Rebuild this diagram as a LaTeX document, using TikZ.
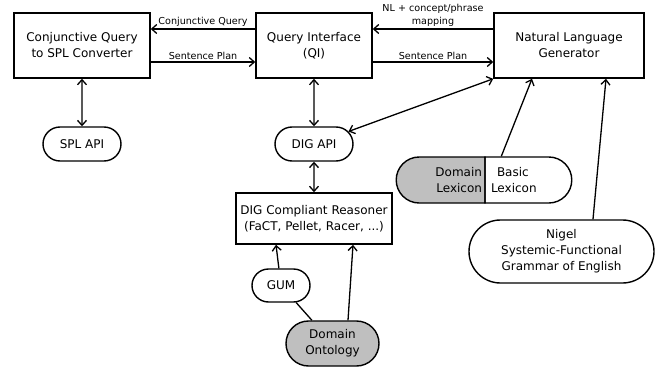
\documentclass[tikz,border=0pt]{standalone}
\usepackage{fontspec}
\setmainfont{DejaVu Sans}
\usetikzlibrary{shapes.misc,arrows.meta}

\begin{document}
\begin{tikzpicture}[>={Straight Barb[length=5pt,width=9pt]}, x=1pt, y=-1pt, line width=1.3pt,
		procbox/.style={rectangle, draw, line width=1.6pt, align=center, inner sep=2pt, font=\fontsize{12}{16}\selectfont},
		pill/.style={rounded rectangle, draw, line width=1.4pt, align=center, inner sep=2pt, font=\fontsize{12}{16}\selectfont},
		shaded/.style={fill=gray!50},
		edgelbl/.style={align=center, inner sep=2pt, font=\fontsize{9.6}{12.5}\selectfont}]
		\useasboundingbox (0,0) rectangle (657,367);
		
		% Top row
		\node[procbox, minimum width=136pt, minimum height=65pt] (cq) at (82,45.5) {Conjunctive Query\\to SPL Converter};
		\node[procbox, minimum width=116pt, minimum height=65pt] (qi) at (314,45.5) {Query Interface\\(QI)};
		\node[procbox, minimum width=150pt, minimum height=65pt] (nlg) at (569,45.5) {Natural Language\\Generator};
		
		% APIs
		\node[pill, minimum width=82pt, minimum height=34pt] (splapi) at (82,144) {SPL API};
		\node[pill, minimum width=82pt, minimum height=34pt] (digapi) at (314,144) {DIG API};
		
		% Reasoner and ontologies
		\node[procbox, minimum width=156pt, minimum height=51pt] (dcr) at (314,218.5) {DIG Compliant Reasoner\\(FaCT, Pellet, Racer, ...)};
		\node[pill, minimum width=62pt, minimum height=33pt] (gum) at (281,285.5) {GUM};
		\node[pill, shaded, minimum width=97pt, minimum height=45pt] (onto) at (332.5,343.5) {Domain\\Ontology};
		
		% Lexicons and grammar
		\node[pill, shaded, rounded rectangle east arc=none, minimum width=85pt, minimum height=46pt,
			text width=79pt, inner xsep=3pt, align=right] (dlex) at (442.5,180) {Domain\\Lexicon};
		\node[pill, rounded rectangle west arc=none, minimum width=83pt, minimum height=46pt,
			text width=71pt, inner xsep=6pt, align=left] (blex) at (526.5,180) {\hspace*{6pt}Basic\\Lexicon};
		\node[pill, minimum width=189pt, minimum height=63pt] (nigel) at (561.5,251.5) {Nigel\\Systemic-Functional\\Grammar of English};
		
		% Top arrows
		\draw[->] ([yshift=16.5pt]qi.west) -- node[edgelbl, above] {Conjunctive Query} ([yshift=16.5pt]cq.east);
		\draw[->] ([yshift=-16.5pt]cq.east) -- node[edgelbl, above] {Sentence Plan} ([yshift=-16.5pt]qi.west);
		\draw[->] ([yshift=16.5pt]nlg.west) -- node[edgelbl, above] {NL + concept/phrase\\mapping} ([yshift=16.5pt]qi.east);
		\draw[->] ([yshift=-16.5pt]qi.east) -- node[edgelbl, above] {Sentence Plan} ([yshift=-16.5pt]nlg.west);
		
		% Double arrows
		\draw[<->] (cq) -- (splapi);
		\draw[<->] (qi) -- (digapi);
		\draw[<->] (digapi) -- (dcr);
		\draw[<->] (digapi) -- (nlg.south west);
		
		% Into the generator
		\draw[->] ([xshift=17pt]blex.north west) -- ([xshift=-37pt]nlg.south);
		\draw[->] ([xshift=31.5pt]nigel.north) -- ([xshift=37pt]nlg.south);
		
		% Into the reasoner
		\draw[->] (gum) -- ([xshift=-38pt]dcr.south);
		\draw (onto) -- (gum);
		\draw[->] ([xshift=15.5pt]onto.north) -- ([xshift=39pt]dcr.south);
	\end{tikzpicture}
\end{document}
